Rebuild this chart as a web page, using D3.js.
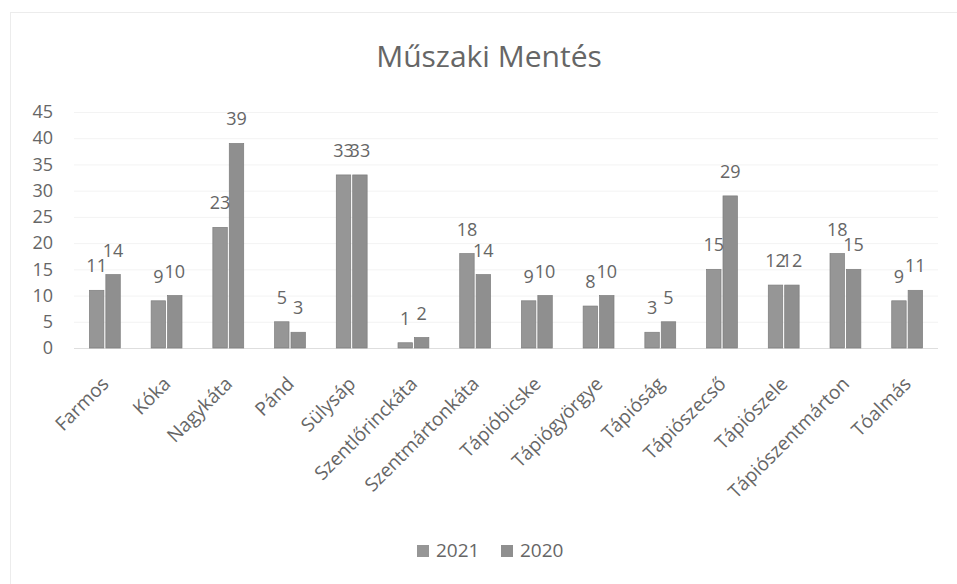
<!DOCTYPE html>
<html>
<head>
<meta charset="utf-8">
<script src="https://cdn.jsdelivr.net/npm/d3@7"></script>
<style>
  body { margin: 0; background: #fff; }
  svg text { font-family: "Open Sans", "Noto Sans", sans-serif; fill: #666; }
</style>
</head>
<body>
<div id="chart"></div>
<script>
// chart data
var towns = ["Farmos", "Kóka", "Nagykáta", "Pánd", "Sülysáp", "Szentlőrinckáta", "Szentmártonkáta",
    "Tápióbicske", "Tápiógyörgye", "Tápióság", "Tápiószecső", "Tápiószele", "Tápiószentmárton", "Tóalmás"];
var seriesNames = ["2021", "2020"];
var values2021 = [11, 9, 23, 5, 33, 1, 18, 9, 8, 3, 15, 12, 18, 9];
var values2020 = [14, 10, 39, 3, 33, 2, 14, 10, 10, 5, 29, 12, 15, 11];
var yTicks = [0, 5, 10, 15, 20, 25, 30, 35, 40, 45];
var colors = ["#969696", "#8f8f8f"];

var width = 957, height = 584;
var margin = {top: 112, right: 19, bottom: 236, left: 74};

var svg = d3.select("#chart").append("svg")
    .attr("width", width)
    .attr("height", height);

// faint chart area border
svg.append("rect")
    .attr("x", 10.5).attr("y", 12.5)
    .attr("width", width).attr("height", height)
    .attr("fill", "none")
    .attr("stroke", "#ececec");

var innerW = width - margin.left - margin.right,
    innerH = height - margin.top - margin.bottom;

var x = d3.scaleBand().domain(towns).range([0, innerW]).paddingInner(0.5).paddingOuter(0.25);
var x1 = d3.scaleBand().domain(seriesNames).range([0, x.bandwidth()]).paddingInner(0.12);
var y = d3.scaleLinear().domain([0, 45]).range([innerH, 0]);

var g = svg.append("g")
    .attr("transform", "translate(" + margin.left + "," + margin.top + ")");

// gridlines
g.append("g")
    .selectAll("line")
    .data(yTicks)
    .enter().append("line")
    .attr("x1", 0).attr("x2", innerW)
    .attr("y1", function (d) { return y(d) + 0.5; })
    .attr("y2", function (d) { return y(d) + 0.5; })
    .attr("stroke", function (d) { return d === 0 ? "#dedede" : "#f3f3f3"; });

// y axis
var yAxis = g.append("g")
    .call(d3.axisLeft(y).tickValues(yTicks).tickSize(0).tickPadding(21));
yAxis.select(".domain").remove();
yAxis.selectAll("text")
    .style("font-size", "18px");

// x axis labels, rotated like excel
var xAxis = g.append("g")
    .attr("transform", "translate(0," + innerH + ")")
    .call(d3.axisBottom(x).tickSize(0));
xAxis.select(".domain").remove();
xAxis.selectAll("text")
    .attr("text-anchor", "end")
    .attr("dy", 0)
    .attr("transform", "translate(3,35) rotate(-45)")
    .style("font-size", "19px");

var rows = towns.map(function (t, i) {
    return {town: t, vals: [
        {key: "2021", v: values2021[i]},
        {key: "2020", v: values2020[i]}
    ]};
});

var groups = g.selectAll(".grp")
    .data(rows)
    .enter().append("g")
    .attr("class", "grp")
    .attr("transform", function (d) { return "translate(" + x(d.town) + ",0)"; });

groups.selectAll("rect")
    .data(function (d) { return d.vals; })
    .enter().append("rect")
    .attr("x", function (d) { return x1(d.key); })
    .attr("y", function (d) { return y(d.v); })
    .attr("width", x1.bandwidth())
    .attr("height", function (d) { return innerH - y(d.v); })
    .attr("fill", function (d, i) { return colors[i]; })
    .attr("stroke", "#7d7d7d")
    .attr("stroke-width", 0.7);

groups.selectAll(".lbl")
    .data(function (d) { return d.vals; })
    .enter().append("text")
    .attr("class", "lbl")
    .attr("x", function (d) { return x1(d.key) + x1.bandwidth() / 2; })
    .attr("y", function (d) { return y(d.v) - 18; })
    .attr("text-anchor", "middle")
    .style("font-size", "18px")
    .text(function (d) { return d.v; });

// title
svg.append("text")
    .attr("x", 489)
    .attr("y", 67)
    .attr("text-anchor", "middle")
    .style("font-size", "30px")
    .text("Műszaki Mentés");

// legend
var legend = svg.append("g").attr("transform", "translate(417,557)");
var li = legend.selectAll("g")
    .data(seriesNames)
    .enter().append("g")
    .attr("transform", function (d, i) { return "translate(" + (i * 84) + ",0)"; });
li.append("rect")
    .attr("x", 0).attr("y", -12)
    .attr("width", 12).attr("height", 12)
    .attr("fill", function (d, i) { return colors[i]; });
li.append("text")
    .attr("x", 19)
    .attr("y", 0)
    .style("font-size", "19px")
    .text(function (d) { return d; });
</script>
</body>
</html>
